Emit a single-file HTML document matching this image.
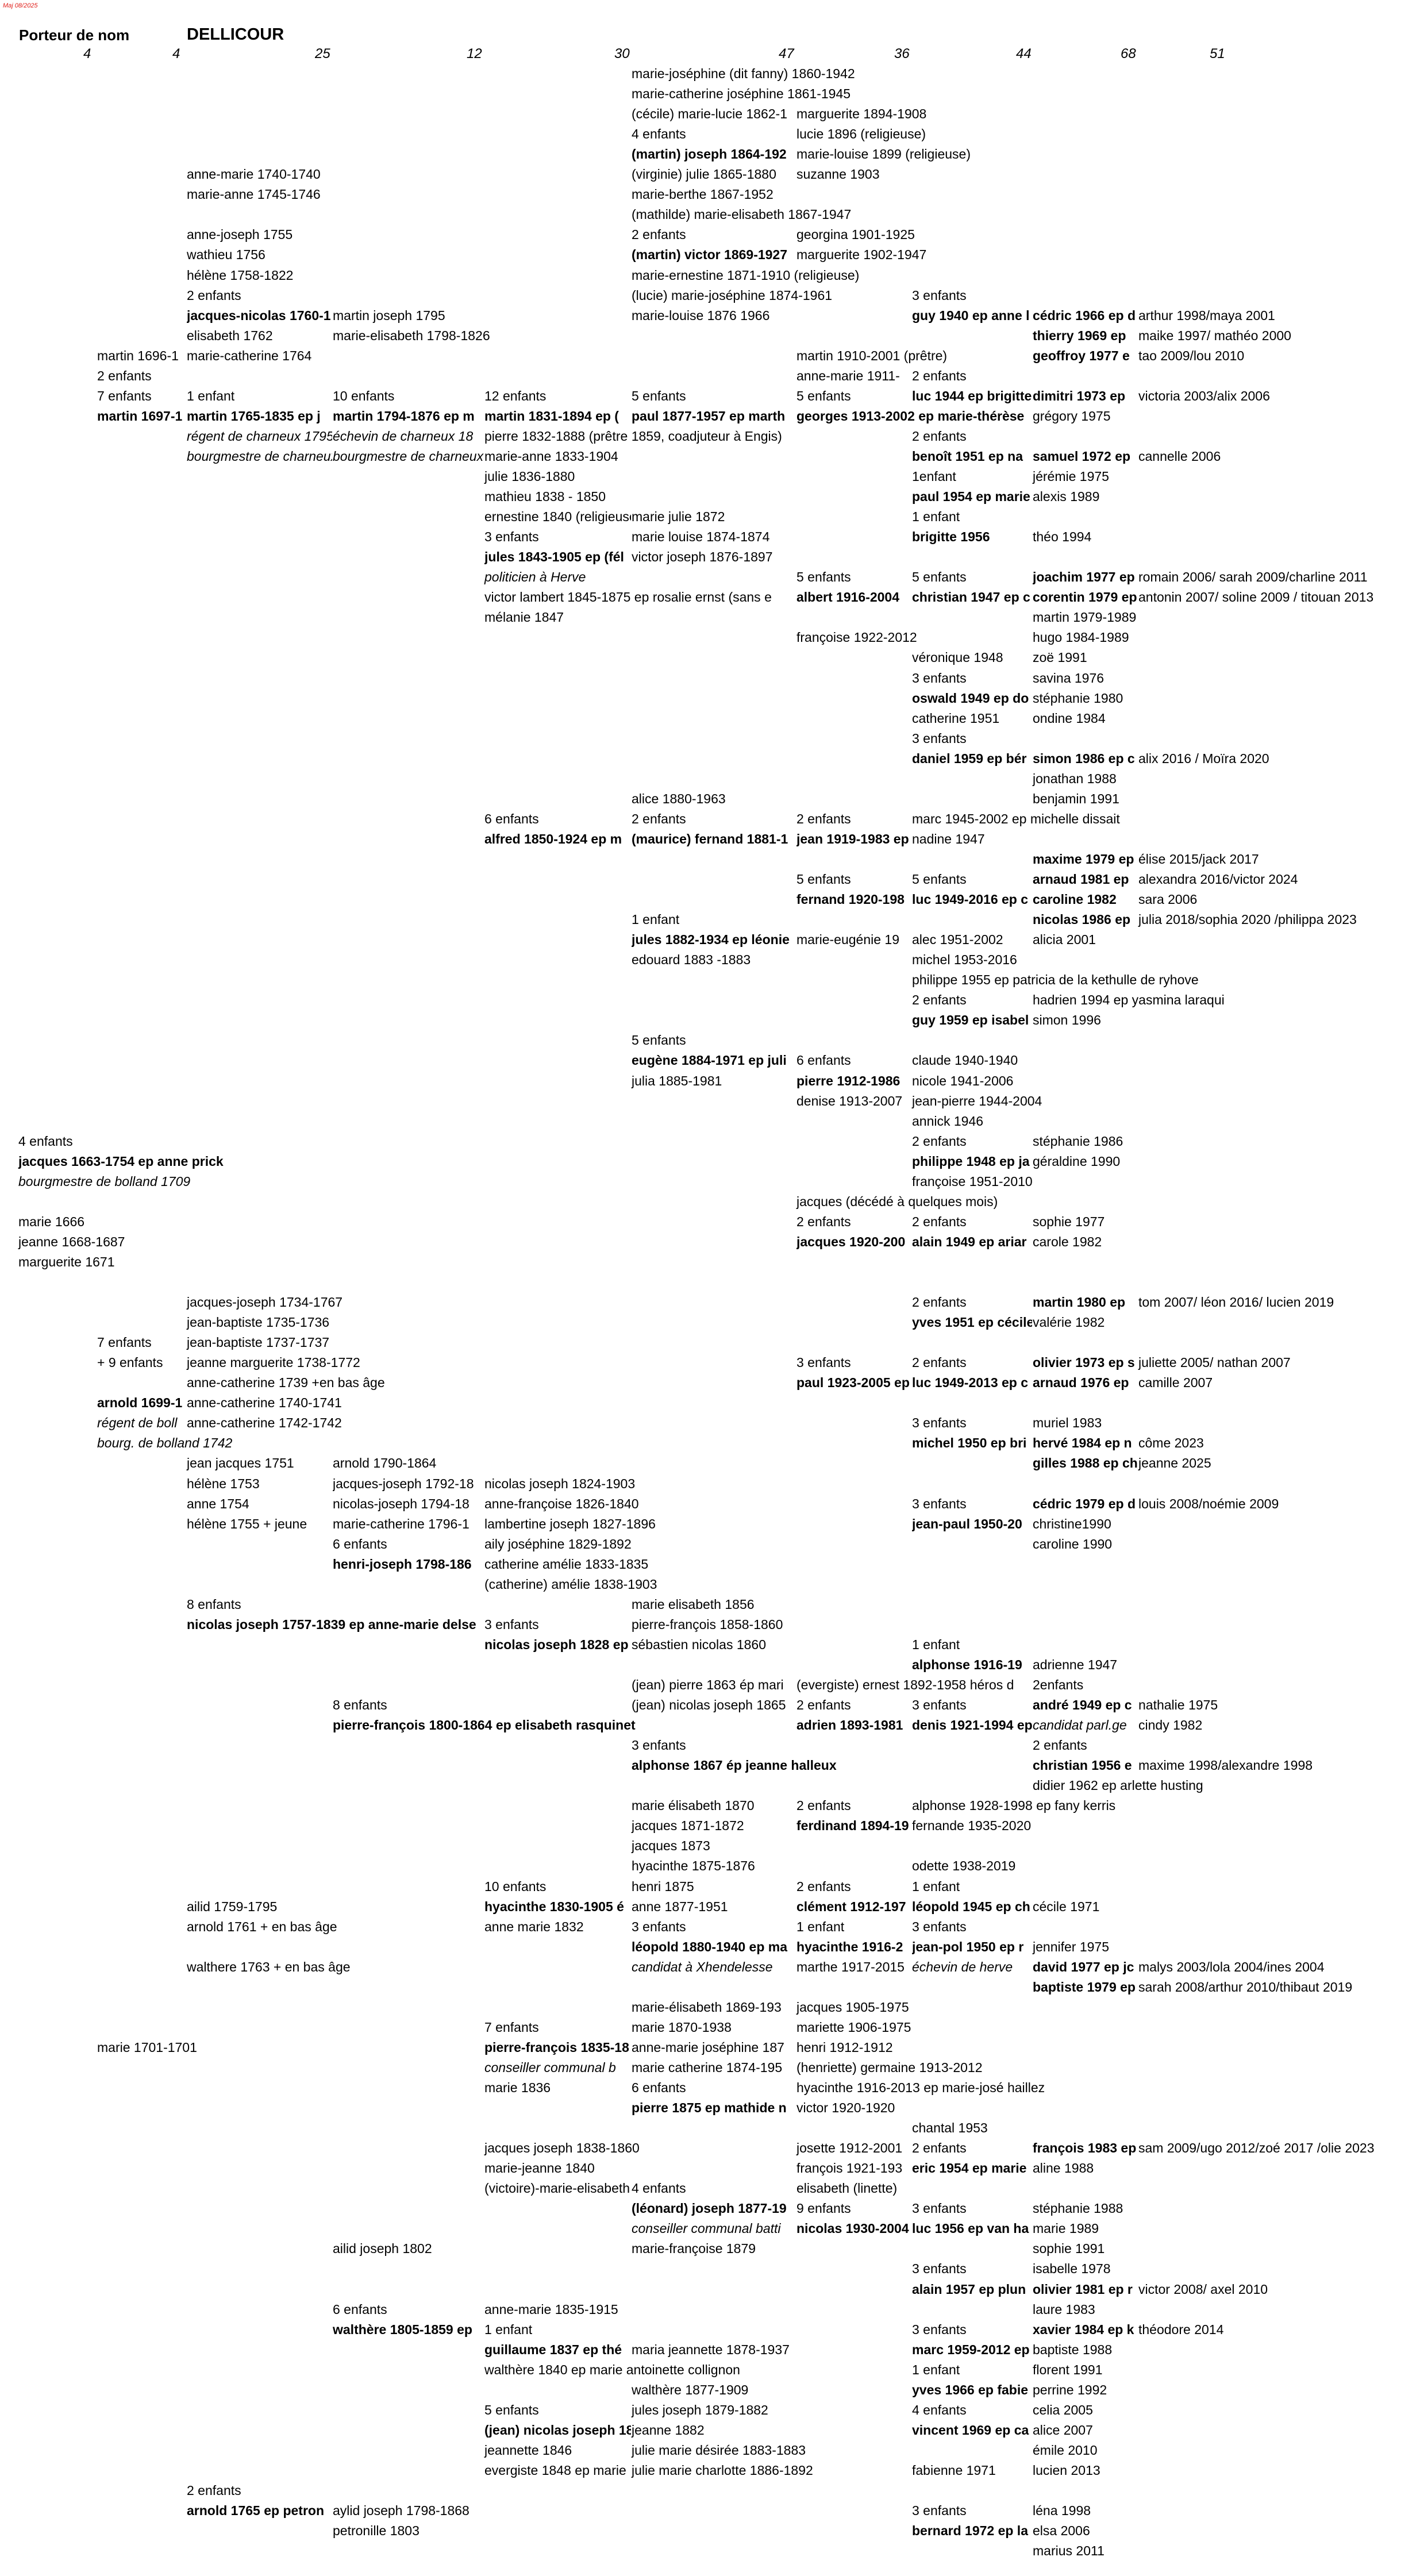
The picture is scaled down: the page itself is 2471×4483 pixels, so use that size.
<!DOCTYPE html>
<html><head><meta charset="utf-8">
<style>
html,body{margin:0;padding:0;background:#fff;}
body{width:2471px;height:4483px;position:relative;overflow:hidden;font-family:"Liberation Sans",sans-serif;color:#000;}
.r{position:absolute;left:0;width:2471px;height:35px;}
.r span{position:absolute;top:0;line-height:35px;font-size:23px;white-space:nowrap;}
.c0{left:32px}.c1{left:169px}.c2{left:325px}.c3{left:579px}.c4{left:843px}.c5{left:1099px}.c6{left:1386px}.c7{left:1587px}.c8{left:1797px}.c9{left:1981px}
.b{font-weight:bold}.i{font-style:italic}
.t{overflow:hidden;display:inline-block}
.t.c0{width:136px}.t.c1{width:155px}.t.c2{width:253px}.t.c3{width:263px}.t.c4{width:255px}.t.c5{width:286px}.t.c6{width:200px}.t.c7{width:209px}.t.c8{width:183px}
.h{position:absolute;white-space:nowrap;}
.n{position:absolute;top:76px;font-size:24px;font-style:italic;line-height:35px;}
</style></head><body>
<div class="h" style="left:5px;top:4px;font-size:11px;font-style:italic;color:#e0201b;">Maj 08/2025</div>
<div class="h" style="left:33px;top:44px;font-size:26px;font-weight:bold;line-height:34px;">Porteur de nom</div>
<div class="h" style="left:325px;top:41px;font-size:29px;font-weight:bold;line-height:38px;">DELLICOUR</div>
<div class="n" style="left:145px">4</div>
<div class="n" style="left:300px">4</div>
<div class="n" style="left:548px">25</div>
<div class="n" style="left:812px">12</div>
<div class="n" style="left:1069px">30</div>
<div class="n" style="left:1355px">47</div>
<div class="n" style="left:1556px">36</div>
<div class="n" style="left:1768px">44</div>
<div class="n" style="left:1950px">68</div>
<div class="n" style="left:2105px">51</div>

<div class="r" style="top:111px"><span class="c5">marie-joséphine (dit fanny) 1860-1942</span></div>
<div class="r" style="top:146px"><span class="c5">marie-catherine joséphine 1861-1945</span></div>
<div class="r" style="top:181px"><span class="c5 t">(cécile) marie-lucie 1862-1</span><span class="c6">marguerite 1894-1908</span></div>
<div class="r" style="top:216px"><span class="c5">4 enfants</span><span class="c6">lucie 1896 (religieuse)</span></div>
<div class="r" style="top:251px"><span class="c5 b t">(martin) joseph 1864-192</span><span class="c6">marie-louise 1899 (religieuse)</span></div>
<div class="r" style="top:286px"><span class="c2">anne-marie 1740-1740</span><span class="c5">(virginie) julie 1865-1880</span><span class="c6">suzanne 1903</span></div>
<div class="r" style="top:321px"><span class="c2">marie-anne 1745-1746</span><span class="c5">marie-berthe 1867-1952</span></div>
<div class="r" style="top:356px"><span class="c5">(mathilde) marie-elisabeth 1867-1947</span></div>
<div class="r" style="top:391px"><span class="c2">anne-joseph 1755</span><span class="c5">2 enfants</span><span class="c6">georgina 1901-1925</span></div>
<div class="r" style="top:426px"><span class="c2">wathieu 1756</span><span class="c5 b t">(martin) victor 1869-1927</span><span class="c6">marguerite 1902-1947</span></div>
<div class="r" style="top:462px"><span class="c2">hélène 1758-1822</span><span class="c5">marie-ernestine 1871-1910 (religieuse)</span></div>
<div class="r" style="top:497px"><span class="c2">2 enfants</span><span class="c5">(lucie) marie-joséphine 1874-1961</span><span class="c7">3 enfants</span></div>
<div class="r" style="top:532px"><span class="c2 b t">jacques-nicolas 1760-1</span><span class="c3">martin joseph 1795</span><span class="c5">marie-louise 1876 1966</span><span class="c7 b t">guy 1940 ep anne l</span><span class="c8 b t">cédric 1966 ep d</span><span class="c9">arthur 1998/maya 2001</span></div>
<div class="r" style="top:567px"><span class="c2">elisabeth 1762</span><span class="c3">marie-elisabeth 1798-1826</span><span class="c8 b t">thierry 1969 ep</span><span class="c9">maike 1997/ mathéo 2000</span></div>
<div class="r" style="top:602px"><span class="c1 t">martin 1696-1</span><span class="c2">marie-catherine 1764</span><span class="c6">martin 1910-2001 (prêtre)</span><span class="c8 b t">geoffroy 1977 e</span><span class="c9">tao 2009/lou 2010</span></div>
<div class="r" style="top:637px"><span class="c1">2 enfants</span><span class="c6 t">anne-marie 1911-</span><span class="c7">2 enfants</span></div>
<div class="r" style="top:672px"><span class="c1">7 enfants</span><span class="c2">1 enfant</span><span class="c3">10 enfants</span><span class="c4">12 enfants</span><span class="c5">5 enfants</span><span class="c6">5 enfants</span><span class="c7 b t">luc 1944 ep brigitte</span><span class="c8 b t">dimitri 1973 ep</span><span class="c9">victoria 2003/alix 2006</span></div>
<div class="r" style="top:707px"><span class="c1 b t">martin 1697-1</span><span class="c2 b t">martin 1765-1835 ep j</span><span class="c3 b t">martin 1794-1876 ep m</span><span class="c4 b t">martin 1831-1894 ep (</span><span class="c5 b t">paul 1877-1957 ep marth</span><span class="c6 b t" style="width:410px">georges 1913-2002 ep marie-thérèse</span><span class="c8">grégory 1975</span></div>
<div class="r" style="top:742px"><span class="c2 i t">régent de charneux 1795</span><span class="c3 i t">échevin de charneux 18</span><span class="c4">pierre 1832-1888 (prêtre 1859, coadjuteur à Engis)</span><span class="c7">2 enfants</span></div>
<div class="r" style="top:777px"><span class="c2 i t">bourgmestre de charneux</span><span class="c3 i t">bourgmestre de charneux</span><span class="c4">marie-anne 1833-1904</span><span class="c7 b t">benoît 1951 ep na</span><span class="c8 b t">samuel 1972 ep</span><span class="c9">cannelle 2006</span></div>
<div class="r" style="top:812px"><span class="c4">julie 1836-1880</span><span class="c7">1enfant</span><span class="c8">jérémie 1975</span></div>
<div class="r" style="top:847px"><span class="c4">mathieu 1838 - 1850</span><span class="c7 b t">paul 1954 ep marie</span><span class="c8">alexis 1989</span></div>
<div class="r" style="top:882px"><span class="c4 t">ernestine 1840 (religieuse)</span><span class="c5">marie julie 1872</span><span class="c7">1 enfant</span></div>
<div class="r" style="top:917px"><span class="c4">3 enfants</span><span class="c5">marie louise 1874-1874</span><span class="c7 b">brigitte 1956</span><span class="c8">théo 1994</span></div>
<div class="r" style="top:952px"><span class="c4 b t">jules 1843-1905 ep (fél</span><span class="c5">victor joseph 1876-1897</span></div>
<div class="r" style="top:987px"><span class="c4 i">politicien à Herve</span><span class="c6">5 enfants</span><span class="c7">5 enfants</span><span class="c8 b t">joachim 1977 ep</span><span class="c9">romain 2006/ sarah 2009/charline 2011</span></div>
<div class="r" style="top:1022px"><span class="c4 t" style="width:541px">victor lambert 1845-1875 ep rosalie ernst  (sans e</span><span class="c6 b">albert 1916-2004</span><span class="c7 b t">christian 1947 ep c</span><span class="c8 b t">corentin 1979 ep</span><span class="c9">antonin 2007/ soline 2009 / titouan 2013</span></div>
<div class="r" style="top:1057px"><span class="c4">mélanie 1847</span><span class="c8">martin 1979-1989</span></div>
<div class="r" style="top:1092px"><span class="c6">françoise 1922-2012</span><span class="c8">hugo 1984-1989</span></div>
<div class="r" style="top:1127px"><span class="c7">véronique 1948</span><span class="c8">zoë 1991</span></div>
<div class="r" style="top:1163px"><span class="c7">3 enfants</span><span class="c8">savina 1976</span></div>
<div class="r" style="top:1198px"><span class="c7 b t">oswald 1949 ep do</span><span class="c8">stéphanie 1980</span></div>
<div class="r" style="top:1233px"><span class="c7">catherine 1951</span><span class="c8">ondine 1984</span></div>
<div class="r" style="top:1268px"><span class="c7">3 enfants</span></div>
<div class="r" style="top:1303px"><span class="c7 b t">daniel 1959 ep bér</span><span class="c8 b t">simon 1986 ep c</span><span class="c9">alix 2016 / Moïra 2020</span></div>
<div class="r" style="top:1338px"><span class="c8">jonathan 1988</span></div>
<div class="r" style="top:1373px"><span class="c5">alice 1880-1963</span><span class="c8">benjamin 1991</span></div>
<div class="r" style="top:1408px"><span class="c4">6 enfants</span><span class="c5">2 enfants</span><span class="c6">2 enfants</span><span class="c7">marc 1945-2002 ep michelle dissait</span></div>
<div class="r" style="top:1443px"><span class="c4 b t">alfred 1850-1924 ep m</span><span class="c5 b t">(maurice) fernand 1881-1</span><span class="c6 b t">jean 1919-1983 ep</span><span class="c7">nadine 1947</span></div>
<div class="r" style="top:1478px"><span class="c8 b t">maxime 1979 ep</span><span class="c9">élise 2015/jack 2017</span></div>
<div class="r" style="top:1513px"><span class="c6">5 enfants</span><span class="c7">5 enfants</span><span class="c8 b t">arnaud 1981 ep</span><span class="c9">alexandra 2016/victor 2024</span></div>
<div class="r" style="top:1548px"><span class="c6 b t">fernand 1920-198</span><span class="c7 b t">luc 1949-2016 ep c</span><span class="c8 b">caroline 1982</span><span class="c9">sara 2006</span></div>
<div class="r" style="top:1583px"><span class="c5">1 enfant</span><span class="c8 b t">nicolas 1986 ep</span><span class="c9">julia 2018/sophia 2020 /philippa 2023</span></div>
<div class="r" style="top:1618px"><span class="c5 b t">jules 1882-1934 ep léonie</span><span class="c6 t">marie-eugénie 19</span><span class="c7">alec 1951-2002</span><span class="c8">alicia 2001</span></div>
<div class="r" style="top:1653px"><span class="c5">edouard 1883 -1883</span><span class="c7">michel 1953-2016</span></div>
<div class="r" style="top:1688px"><span class="c7">philippe 1955 ep patricia de la kethulle de ryhove</span></div>
<div class="r" style="top:1723px"><span class="c7">2 enfants</span><span class="c8">hadrien 1994 ep yasmina laraqui</span></div>
<div class="r" style="top:1758px"><span class="c7 b t">guy 1959 ep isabel</span><span class="c8">simon 1996</span></div>
<div class="r" style="top:1793px"><span class="c5">5 enfants</span></div>
<div class="r" style="top:1828px"><span class="c5 b t">eugène 1884-1971 ep juli</span><span class="c6">6 enfants</span><span class="c7">claude 1940-1940</span></div>
<div class="r" style="top:1864px"><span class="c5">julia 1885-1981</span><span class="c6 b">pierre 1912-1986</span><span class="c7">nicole 1941-2006</span></div>
<div class="r" style="top:1899px"><span class="c6">denise 1913-2007</span><span class="c7">jean-pierre 1944-2004</span></div>
<div class="r" style="top:1934px"><span class="c7">annick 1946</span></div>
<div class="r" style="top:1969px"><span class="c0">4 enfants</span><span class="c7">2 enfants</span><span class="c8">stéphanie 1986</span></div>
<div class="r" style="top:2004px"><span class="c0 b">jacques 1663-1754 ep anne prick</span><span class="c7 b t">philippe 1948 ep ja</span><span class="c8">géraldine 1990</span></div>
<div class="r" style="top:2039px"><span class="c0 i">bourgmestre de bolland 1709</span><span class="c7">françoise 1951-2010</span></div>
<div class="r" style="top:2074px"><span class="c6">jacques  (décédé à quelques mois)</span></div>
<div class="r" style="top:2109px"><span class="c0">marie 1666</span><span class="c6">2 enfants</span><span class="c7">2 enfants</span><span class="c8">sophie 1977</span></div>
<div class="r" style="top:2144px"><span class="c0">jeanne 1668-1687</span><span class="c6 b t">jacques 1920-200</span><span class="c7 b t">alain 1949 ep ariar</span><span class="c8">carole 1982</span></div>
<div class="r" style="top:2179px"><span class="c0">marguerite 1671</span></div>
<div class="r" style="top:2249px"><span class="c2">jacques-joseph 1734-1767</span><span class="c7">2 enfants</span><span class="c8 b t">martin 1980 ep</span><span class="c9">tom 2007/ léon 2016/ lucien 2019</span></div>
<div class="r" style="top:2284px"><span class="c2">jean-baptiste  1735-1736</span><span class="c7 b t">yves 1951 ep cécile</span><span class="c8">valérie 1982</span></div>
<div class="r" style="top:2319px"><span class="c1">7 enfants</span><span class="c2">jean-baptiste 1737-1737</span></div>
<div class="r" style="top:2354px"><span class="c1">+ 9 enfants</span><span class="c2">jeanne marguerite 1738-1772</span><span class="c6">3 enfants</span><span class="c7">2 enfants</span><span class="c8 b t">olivier 1973 ep s</span><span class="c9">juliette 2005/ nathan 2007</span></div>
<div class="r" style="top:2389px"><span class="c2">anne-catherine 1739 +en bas âge</span><span class="c6 b t">paul 1923-2005 ep</span><span class="c7 b t">luc 1949-2013 ep c</span><span class="c8 b t">arnaud 1976 ep</span><span class="c9">camille 2007</span></div>
<div class="r" style="top:2424px"><span class="c1 b t">arnold 1699-1</span><span class="c2">anne-catherine 1740-1741</span></div>
<div class="r" style="top:2459px"><span class="c1 i t">régent de boll</span><span class="c2">anne-catherine 1742-1742</span><span class="c7">3 enfants</span><span class="c8">muriel 1983</span></div>
<div class="r" style="top:2494px"><span class="c1 i">bourg. de bolland 1742</span><span class="c7 b t">michel 1950 ep bri</span><span class="c8 b t">hervé 1984 ep n</span><span class="c9">côme 2023</span></div>
<div class="r" style="top:2529px"><span class="c2">jean jacques 1751</span><span class="c3">arnold 1790-1864</span><span class="c8 b t">gilles 1988 ep ch</span><span class="c9">jeanne 2025</span></div>
<div class="r" style="top:2565px"><span class="c2">hélène 1753</span><span class="c3 t">jacques-joseph 1792-18</span><span class="c4">nicolas joseph 1824-1903</span></div>
<div class="r" style="top:2600px"><span class="c2">anne 1754</span><span class="c3 t">nicolas-joseph 1794-18</span><span class="c4">anne-françoise 1826-1840</span><span class="c7">3 enfants</span><span class="c8 b t">cédric 1979 ep d</span><span class="c9">louis 2008/noémie 2009</span></div>
<div class="r" style="top:2635px"><span class="c2">hélène 1755 + jeune</span><span class="c3 t">marie-catherine 1796-1</span><span class="c4">lambertine joseph 1827-1896</span><span class="c7 b t">jean-paul 1950-20</span><span class="c8">christine1990</span></div>
<div class="r" style="top:2670px"><span class="c3">6 enfants</span><span class="c4">aily joséphine 1829-1892</span><span class="c8">caroline 1990</span></div>
<div class="r" style="top:2705px"><span class="c3 b t">henri-joseph 1798-186</span><span class="c4">catherine amélie 1833-1835</span></div>
<div class="r" style="top:2740px"><span class="c4">(catherine) amélie 1838-1903</span></div>
<div class="r" style="top:2775px"><span class="c2">8 enfants</span><span class="c5">marie elisabeth 1856</span></div>
<div class="r" style="top:2810px"><span class="c2 b t" style="width:516px">nicolas joseph 1757-1839 ep anne-marie delse</span><span class="c4">3 enfants</span><span class="c5">pierre-françois 1858-1860</span></div>
<div class="r" style="top:2845px"><span class="c4 b t">nicolas  joseph 1828 ep</span><span class="c5">sébastien nicolas 1860</span><span class="c7">1 enfant</span></div>
<div class="r" style="top:2880px"><span class="c7 b t">alphonse 1916-19</span><span class="c8">adrienne 1947</span></div>
<div class="r" style="top:2915px"><span class="c5 t">(jean) pierre 1863 ép mari</span><span class="c6 t" style="width:409px">(evergiste) ernest 1892-1958 héros d</span><span class="c8">2enfants</span></div>
<div class="r" style="top:2950px"><span class="c3">8 enfants</span><span class="c5 t">(jean) nicolas joseph 1865</span><span class="c6">2 enfants</span><span class="c7">3 enfants</span><span class="c8 b t">andré 1949 ep c</span><span class="c9">nathalie 1975</span></div>
<div class="r" style="top:2985px"><span class="c3 b">pierre-françois 1800-1864 ep elisabeth rasquinet</span><span class="c6 b t">adrien  1893-1981</span><span class="c7 b t">denis 1921-1994 ep</span><span class="c8 i t">candidat parl.ge</span><span class="c9">cindy 1982</span></div>
<div class="r" style="top:3020px"><span class="c5">3 enfants</span><span class="c8">2 enfants</span></div>
<div class="r" style="top:3055px"><span class="c5 b">alphonse 1867 ép jeanne halleux</span><span class="c8 b t">christian 1956 e</span><span class="c9">maxime 1998/alexandre 1998</span></div>
<div class="r" style="top:3090px"><span class="c8">didier 1962 ep arlette husting</span></div>
<div class="r" style="top:3125px"><span class="c5">marie élisabeth 1870</span><span class="c6">2 enfants</span><span class="c7">alphonse 1928-1998 ep fany kerris</span></div>
<div class="r" style="top:3160px"><span class="c5">jacques 1871-1872</span><span class="c6 b t">ferdinand 1894-19</span><span class="c7">fernande 1935-2020</span></div>
<div class="r" style="top:3195px"><span class="c5">jacques 1873</span></div>
<div class="r" style="top:3230px"><span class="c5">hyacinthe 1875-1876</span><span class="c7">odette 1938-2019</span></div>
<div class="r" style="top:3266px"><span class="c4">10 enfants</span><span class="c5">henri 1875</span><span class="c6">2 enfants</span><span class="c7">1 enfant</span></div>
<div class="r" style="top:3301px"><span class="c2">ailid 1759-1795</span><span class="c4 b t">hyacinthe 1830-1905 é</span><span class="c5">anne 1877-1951</span><span class="c6 b t">clément 1912-197</span><span class="c7 b t">léopold 1945 ep ch</span><span class="c8">cécile 1971</span></div>
<div class="r" style="top:3336px"><span class="c2">arnold 1761 + en bas âge</span><span class="c4">anne marie 1832</span><span class="c5">3 enfants</span><span class="c6">1 enfant</span><span class="c7">3 enfants</span></div>
<div class="r" style="top:3371px"><span class="c5 b t">léopold 1880-1940 ep ma</span><span class="c6 b t">hyacinthe 1916-2</span><span class="c7 b t">jean-pol 1950 ep r</span><span class="c8">jennifer 1975</span></div>
<div class="r" style="top:3406px"><span class="c2">walthere 1763 + en bas âge</span><span class="c5 i">candidat à Xhendelesse</span><span class="c6 t">marthe 1917-2015</span><span class="c7 i">échevin de herve</span><span class="c8 b t">david 1977 ep jc</span><span class="c9">malys 2003/lola 2004/ines 2004</span></div>
<div class="r" style="top:3441px"><span class="c8 b t">baptiste 1979 ep</span><span class="c9">sarah 2008/arthur 2010/thibaut 2019</span></div>
<div class="r" style="top:3476px"><span class="c5 t">marie-élisabeth 1869-193</span><span class="c6">jacques 1905-1975</span></div>
<div class="r" style="top:3511px"><span class="c4">7 enfants</span><span class="c5">marie 1870-1938</span><span class="c6">mariette 1906-1975</span></div>
<div class="r" style="top:3546px"><span class="c1">marie 1701-1701</span><span class="c4 b t">pierre-françois 1835-18</span><span class="c5 t">anne-marie joséphine 187</span><span class="c6">henri 1912-1912</span></div>
<div class="r" style="top:3581px"><span class="c4 i t">conseiller communal b</span><span class="c5 t">marie catherine 1874-195</span><span class="c6">(henriette) germaine 1913-2012</span></div>
<div class="r" style="top:3616px"><span class="c4">marie 1836</span><span class="c5">6 enfants</span><span class="c6">hyacinthe 1916-2013 ep marie-josé haillez</span></div>
<div class="r" style="top:3651px"><span class="c5 b t">pierre 1875 ep mathide n</span><span class="c6">victor 1920-1920</span></div>
<div class="r" style="top:3686px"><span class="c7">chantal 1953</span></div>
<div class="r" style="top:3721px"><span class="c4">jacques joseph 1838-1860</span><span class="c6">josette 1912-2001</span><span class="c7">2 enfants</span><span class="c8 b t">françois 1983 ep</span><span class="c9">sam 2009/ugo 2012/zoé 2017 /olie 2023</span></div>
<div class="r" style="top:3756px"><span class="c4">marie-jeanne  1840</span><span class="c6 t">françois 1921-193</span><span class="c7 b t">eric 1954 ep marie</span><span class="c8">aline 1988</span></div>
<div class="r" style="top:3791px"><span class="c4 t">(victoire)-marie-elisabeth</span><span class="c5">4 enfants</span><span class="c6">elisabeth (linette)</span></div>
<div class="r" style="top:3826px"><span class="c5 b t">(léonard) joseph 1877-19</span><span class="c6">9 enfants</span><span class="c7">3 enfants</span><span class="c8">stéphanie 1988</span></div>
<div class="r" style="top:3861px"><span class="c5 i t">conseiller communal batti</span><span class="c6 b t">nicolas 1930-2004</span><span class="c7 b t">luc 1956 ep van ha</span><span class="c8">marie 1989</span></div>
<div class="r" style="top:3896px"><span class="c3">ailid joseph 1802</span><span class="c5">marie-françoise 1879</span><span class="c8">sophie 1991</span></div>
<div class="r" style="top:3931px"><span class="c7">3 enfants</span><span class="c8">isabelle 1978</span></div>
<div class="r" style="top:3967px"><span class="c7 b t">alain 1957 ep plun</span><span class="c8 b t">olivier 1981 ep r</span><span class="c9">victor 2008/ axel 2010</span></div>
<div class="r" style="top:4002px"><span class="c3">6 enfants</span><span class="c4">anne-marie 1835-1915</span><span class="c8">laure 1983</span></div>
<div class="r" style="top:4037px"><span class="c3 b t">walthère 1805-1859 ep</span><span class="c4">1 enfant</span><span class="c7">3 enfants</span><span class="c8 b t">xavier 1984 ep k</span><span class="c9">théodore 2014</span></div>
<div class="r" style="top:4072px"><span class="c4 b t">guillaume 1837 ep thé</span><span class="c5">maria jeannette 1878-1937</span><span class="c7 b t">marc 1959-2012 ep</span><span class="c8">baptiste 1988</span></div>
<div class="r" style="top:4107px"><span class="c4">walthère 1840 ep marie antoinette collignon</span><span class="c7">1 enfant</span><span class="c8">florent 1991</span></div>
<div class="r" style="top:4142px"><span class="c5">walthère 1877-1909</span><span class="c7 b t">yves 1966 ep fabie</span><span class="c8">perrine 1992</span></div>
<div class="r" style="top:4177px"><span class="c4">5 enfants</span><span class="c5">jules joseph  1879-1882</span><span class="c7">4 enfants</span><span class="c8">celia 2005</span></div>
<div class="r" style="top:4212px"><span class="c4 b t">(jean) nicolas joseph 18</span><span class="c5">jeanne 1882</span><span class="c7 b t">vincent 1969 ep ca</span><span class="c8">alice 2007</span></div>
<div class="r" style="top:4247px"><span class="c4">jeannette 1846</span><span class="c5">julie marie désirée 1883-1883</span><span class="c8">émile 2010</span></div>
<div class="r" style="top:4282px"><span class="c4 t">evergiste 1848 ep marie</span><span class="c5">julie marie charlotte 1886-1892</span><span class="c7">fabienne 1971</span><span class="c8">lucien 2013</span></div>
<div class="r" style="top:4317px"><span class="c2">2 enfants</span></div>
<div class="r" style="top:4352px"><span class="c2 b t">arnold 1765 ep petron</span><span class="c3">aylid joseph 1798-1868</span><span class="c7">3 enfants</span><span class="c8">léna 1998</span></div>
<div class="r" style="top:4387px"><span class="c3">petronille 1803</span><span class="c7 b t">bernard 1972 ep la</span><span class="c8">elsa 2006</span></div>
<div class="r" style="top:4422px"><span class="c8">marius 2011</span></div>
</body></html>
